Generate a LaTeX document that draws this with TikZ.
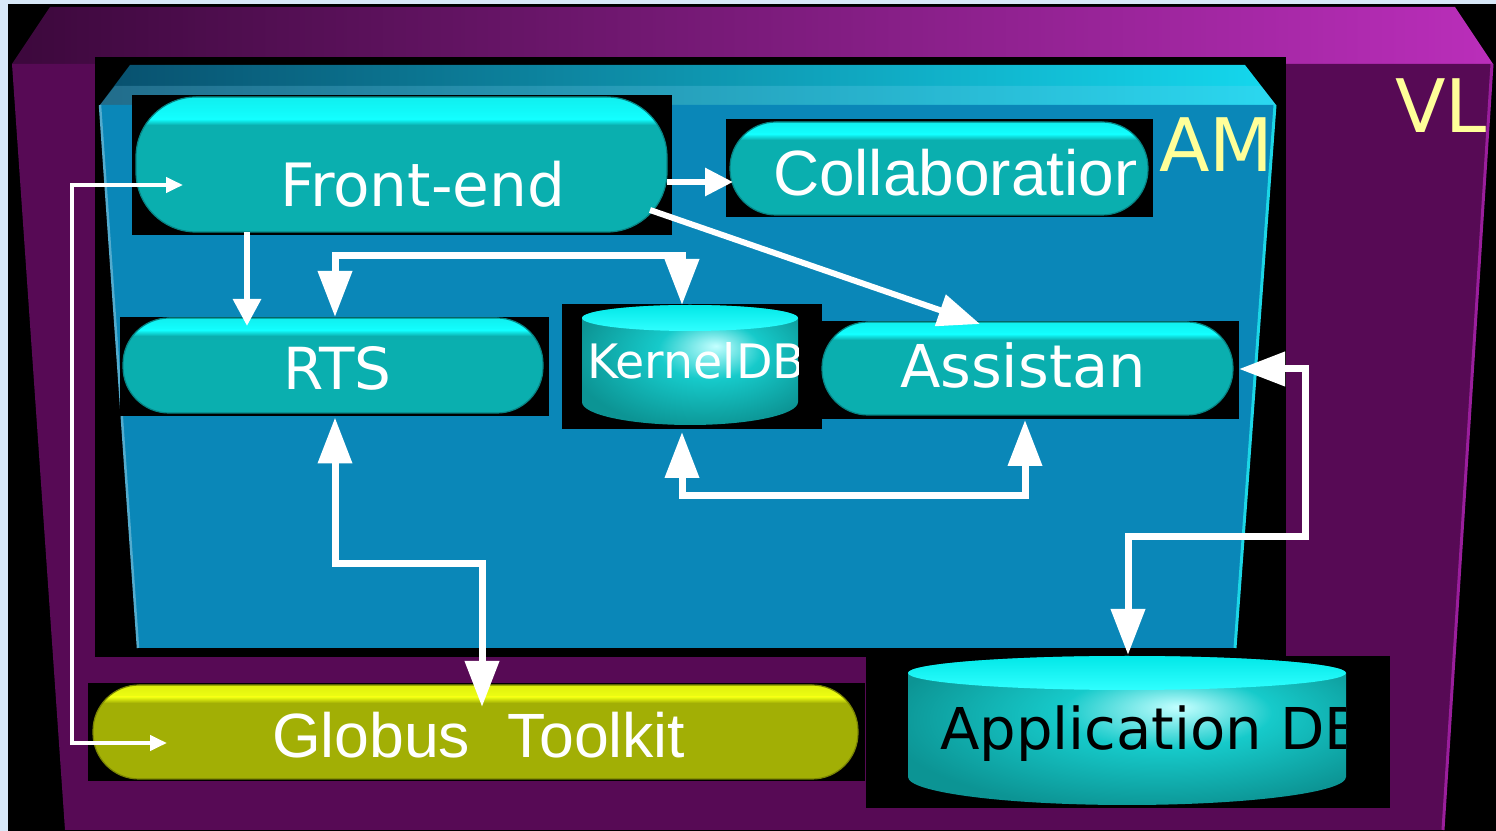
\documentclass[tikz,border=0pt]{standalone}
\usepackage{fontspec}
\setmainfont{DejaVu Sans}
\newfontfamily\arialfont{Liberation Sans}
\usetikzlibrary{arrows.meta}

\definecolor{bgblue}{HTML}{D8E8F8}
\definecolor{vlfront}{HTML}{570A55}
\definecolor{vltopL}{HTML}{3C083C}
\definecolor{vltopR}{HTML}{BA2EBA}
\definecolor{vledge}{HTML}{9A1E9C}
\definecolor{amfront}{HTML}{0A87B8}
\definecolor{amtopL}{HTML}{08506E}
\definecolor{amtopR}{HTML}{14D8EE}
\definecolor{amedge}{HTML}{1CD6E6}
\definecolor{pillteal}{HTML}{0AAFAF}
\definecolor{pilllight}{HTML}{12FFFF}
\definecolor{globusolive}{HTML}{A2AF05}
\definecolor{globuslight}{HTML}{EEFF12}
\definecolor{labelyellow}{HTML}{FFFF99}
\definecolor{cyltop}{HTML}{02E8E8}
\definecolor{cyltoplight}{HTML}{30FFFF}
\definecolor{cyldark}{HTML}{0C9494}
\definecolor{cylmid}{HTML}{16CACA}
\definecolor{cyllight}{HTML}{C4FFFF}

% off-centre highlight for the database drums
\pgfdeclareradialshading{drumshade}{\pgfpoint{6bp}{8bp}}{%
  color(0bp)=(cyllight); color(12bp)=(cylmid); color(30bp)=(cyldark); color(50bp)=(cyldark)}

% a raised pill: face colour, light top band
\newcommand\drawpill[5]{%
  \fill[#3, rounded corners=#2] (#1.south west) rectangle (#1.north east);
  \begin{scope}
    \clip[rounded corners=#2] (#1.south west) rectangle (#1.north east);
    \shade[top color=#4!80!#3, bottom color=#4] (#1.north west) rectangle ([shift={(0,#5)}]#1.north east);
    \shade[top color=#4, bottom color=#3] ([shift={(0,#5)}]#1.north west) rectangle ([shift={(0,#5+6)}]#1.north east);
  \end{scope}
  \draw[#3!75!black, line width=0.12mm, rounded corners=#2] (#1.south west) rectangle (#1.north east);}

% a database drum: centre x, half width, top y, top radius, bottom y, bottom radius
\newcommand\drawdrum[6]{%
  \shade[shading=drumshade] ({#1-#2},#3) -- ({#1-#2},#5)
     arc[start angle=180, end angle=0, x radius=#2, y radius=#6] -- ({#1+#2},#3)
     arc[start angle=0, end angle=-180, x radius=#2, y radius=#4] -- cycle;
  \shade[top color=cyltop, bottom color=cyltoplight] (#1,#3) ellipse[x radius=#2, y radius=#4];}

\begin{document}
\begin{tikzpicture}[x=0.1mm, y=-0.1mm,
  frame/.style={shape=rectangle, inner sep=0pt, outer sep=0pt},
  lbl/.style={inner sep=0pt, outer sep=0pt, anchor=base west, text=white},
  bigtip/.tip={Triangle[length=4.6mm, width=3.3mm]},
  twoway/.style={draw=white, line width=0.7mm, bigtip-bigtip},
  oneway/.style={draw=white, line width=0.6mm, -{Triangle[length=#1]}},
  thinway/.style={draw=white, line width=0.4mm, {Triangle[length=1.7mm, width=1.5mm]}-{Triangle[length=1.7mm, width=1.5mm]}}
]
\useasboundingbox (0,0) rectangle (1496,831);
\fill[bgblue] (0,0) rectangle (1496,831);
\fill[black] (8,4) rectangle (1496,831);

% VL container
\shade[left color=vltopL, right color=vltopR] (50,7) -- (1455,7) -- (1493,64) -- (12,64) -- cycle;
\fill[vlfront] (12,64) -- (1493,64) -- (1443,830) -- (65,830) -- cycle;
\draw[vledge, line width=0.3mm] (1492,64) -- (1443,830);

% cut-outs
\fill[black] (95,57) rectangle (1286,657);
\fill[black] (88,683) rectangle (865,781);
\fill[black] (866,656) rectangle (1390,808);

% AM container
\shade[left color=amtopL, right color=amtopR] (130,65) -- (1245,65) -- (1276,105) -- (100,105) -- cycle;
\fill[cyan!50!white, opacity=0.22] (115,86) -- (1261,86) -- (1276,105) -- (100,105) -- cycle;
\fill[amfront] (100,105) -- (1276,105) -- (1235,648) -- (138,648) -- cycle;
\draw[amedge, line width=0.3mm] (1275,105) -- (1235,648);
\draw[amfront!70!white, line width=0.25mm] (100,105) -- (138,648);

\node[lbl, text=labelyellow, font=\fontsize{21pt}{21pt}\selectfont] (amlabel) at (1159,172) {AM};
\node[lbl, text=labelyellow, font=\fontsize{21pt}{21pt}\selectfont] (vllabel) at (1395,133) {VL};

% black mats behind the components
\fill[black] (132,95) rectangle (672,235);
\fill[black] (726,119) rectangle (1153,217);
\fill[black] (120,317) rectangle (549,416);
\fill[black] (562,304) rectangle (822,429);
\fill[black] (822,321) rectangle (1239,419);

% component outlines
\node[frame, minimum width=53.1mm, minimum height=13.5mm] (fe)  at (401.5,164.5) {};
\node[frame, minimum width=41.8mm, minimum height=9.3mm]  (col) at (939,168.5) {};
\node[frame, minimum width=42.0mm, minimum height=9.5mm]  (rts) at (333,365.5) {};
\node[frame, minimum width=21.6mm, minimum height=12.0mm] (kdb) at (690,365) {};
\node[frame, minimum width=41.1mm, minimum height=9.3mm]  (ast) at (1027.5,368.5) {};
\node[frame, minimum width=76.5mm, minimum height=9.4mm]  (glb) at (475.5,732) {};
\node[frame, minimum width=43.8mm, minimum height=14.9mm] (adb) at (1127,730.5) {};

\drawpill{fe}{6mm}{pillteal}{pilllight}{22}
\drawpill{col}{4.6mm}{pillteal}{pilllight}{12}
\drawpill{rts}{4.6mm}{pillteal}{pilllight}{12}
\drawpill{ast}{4.6mm}{pillteal}{pilllight}{12}
\drawpill{glb}{4.6mm}{globusolive}{globuslight}{12}
\drawdrum{690}{108}{318}{13}{402}{23}
\drawdrum{1127}{219}{673}{17}{777}{28}

% labels (long names are cut off at the edge of their component)
\node[lbl, font=\fontsize{17pt}{17pt}\selectfont] (fetext) at (280,207) {Front-end};
\begin{scope}
  \clip (773,130) rectangle (1135,215);
  \node[lbl, font=\arialfont\fontsize{18.2pt}{18.2pt}\selectfont] (coltext) at (773,196) {\makebox[103pt][l]{Collaboration}};
\end{scope}
\node[lbl, font=\fontsize{16.5pt}{16.5pt}\selectfont] (rtstext) at (283,390) {RTS};
\begin{scope}
  \clip (582,330) rectangle (798,400);
  \node[lbl, font=\fontsize{13.5pt}{13.5pt}\selectfont] (kdbtext) at (587,379) {\makebox[60pt][l]{KernelDB}};
\end{scope}
\begin{scope}
  \clip (890,330) rectangle (1143,410);
  \node[lbl, font=\fontsize{16.8pt}{16.8pt}\selectfont] (asttext) at (900,388) {\makebox[69pt][l]{Assistant}};
\end{scope}
\begin{scope}
  \clip (260,690) rectangle (688,775);
  \node[lbl, font=\arialfont\fontsize{17.8pt}{17.8pt}\selectfont] (glbtext) at (272,758) {\makebox[118pt][l]{Globus\ \hspace{5.8pt}Toolkit}};
\end{scope}
\begin{scope}
  \clip (930,690) rectangle (1345,790);
  \node[lbl, text=black, font=\fontsize{16.4pt}{16.4pt}\selectfont] (adbtext) at (940,750) {\makebox[115pt][l]{Application DB}};
\end{scope}

% connectors
\draw[thinway] ([shift={(47,20.5)}]fe.west) -- ++(-111,0) |- ([shift={(74,11)}]glb.west);
\draw[oneway={2.8mm, width=2.7mm}] ([shift={(0,17.5)}]fe.east) -- ([shift={(3,13.5)}]col.west);
\draw[oneway={2.7mm, width=2.7mm}] ([shift={(-154.5,0)}]fe.south) -- ([shift={(-86,8)}]rts.north);
\draw[oneway={4.2mm, width=3.2mm}] ([shift={(-17,-22)}]fe.south east) -- ([shift={(-47.5,2)}]ast.north);
\draw[twoway] ([shift={(2,-1)}]rts.north) -- ++(0,-61) -| ([shift={(-8,0)}]kdb.north);
\draw[twoway] ([shift={(-8,7)}]kdb.south) -- ++(0,64) -| ([shift={(-2.5,5)}]ast.south);
\draw[twoway] ([shift={(6,0.5)}]ast.east) -- ++(66,0) -- ++(0,168) -| ([shift={(1,-1)}]adb.north);
\draw[twoway] ([shift={(2,4.5)}]rts.south) -- ++(0,146) -| ([shift={(6.5,22)}]glb.north);
\end{tikzpicture}
\end{document}
